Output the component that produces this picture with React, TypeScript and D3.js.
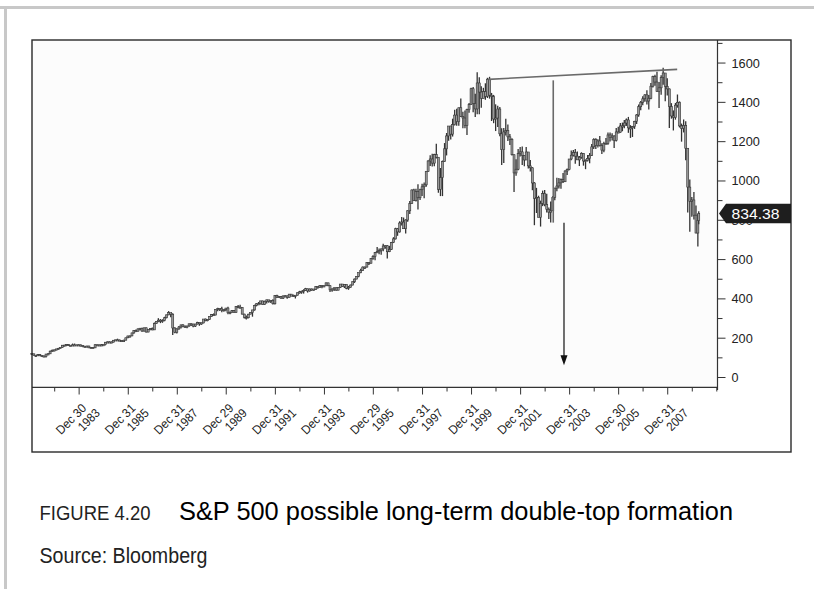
import React from "react";
import * as d3 from "d3";

// Monthly S&P 500 bars, Jan 1982 – Apr 2009
const START_YEAR = 1982;
const firstOpen = 122.6;
const closes = [
  120.4, 113.1, 112.0, 116.4, 111.9, 109.6, 107.1, 119.5, 120.4, 133.7, 138.5, 140.6,
  145.3, 148.1, 153.0, 164.4, 162.4, 168.1, 162.6, 164.4, 166.1, 163.6, 166.4, 164.9,
  163.4, 157.1, 159.2, 160.1, 150.6, 153.2, 150.7, 166.7, 166.1, 166.1, 163.6, 167.2,
  179.6, 181.2, 180.7, 179.8, 189.6, 191.9, 190.9, 188.6, 182.1, 189.8, 202.2, 211.3,
  211.8, 226.9, 238.9, 235.5, 247.4, 250.8, 236.1, 252.9, 231.3, 244.0, 249.2, 242.2,
  274.1, 284.2, 291.7, 288.4, 290.1, 304.0, 318.7, 329.8, 321.8, 251.8, 230.3, 247.1,
  257.1, 267.8, 258.9, 261.3, 262.2, 273.5, 272.0, 261.5, 271.9, 279.0, 273.7, 277.7,
  297.5, 288.9, 294.9, 309.6, 320.5, 318.0, 346.1, 351.5, 349.2, 340.4, 346.0, 353.4,
  329.1, 331.9, 339.9, 330.8, 361.2, 358.0, 356.2, 322.6, 306.1, 304.0, 322.2, 330.2,
  343.9, 367.1, 375.2, 375.3, 389.8, 371.2, 387.8, 395.4, 387.9, 392.5, 375.2, 417.1,
  408.8, 412.7, 403.7, 415.0, 415.4, 408.1, 424.2, 414.0, 417.8, 418.7, 431.4, 435.7,
  438.8, 443.4, 451.7, 440.2, 450.2, 450.5, 448.1, 463.6, 458.9, 467.8, 461.8, 466.5,
  481.6, 467.1, 445.8, 450.9, 456.5, 444.3, 458.3, 475.5, 462.7, 472.4, 453.7, 459.3,
  470.4, 487.4, 500.7, 514.7, 533.4, 544.8, 562.1, 561.9, 584.4, 581.5, 605.4, 615.9,
  636.0, 640.4, 645.5, 654.2, 669.1, 670.6, 640.0, 652.0, 687.3, 705.3, 757.0, 740.7,
  786.2, 790.8, 757.1, 801.3, 848.3, 885.1, 954.3, 899.5, 947.3, 914.6, 955.4, 970.4,
  980.3, 1049.3, 1101.8, 1111.8, 1090.8, 1133.8, 1120.7, 957.3, 1017.0, 1098.7, 1163.6, 1229.2,
  1279.6, 1238.3, 1286.4, 1335.2, 1301.8, 1372.7, 1328.7, 1320.4, 1282.7, 1362.9, 1388.9, 1469.3,
  1394.5, 1366.4, 1498.6, 1452.4, 1420.6, 1454.6, 1430.8, 1517.7, 1436.5, 1429.4, 1315.2, 1320.3,
  1366.0, 1239.9, 1160.3, 1249.5, 1255.8, 1224.4, 1211.2, 1133.6, 1040.9, 1059.8, 1139.5, 1148.1,
  1130.2, 1106.7, 1147.4, 1076.9, 1067.1, 989.8, 911.6, 916.1, 815.3, 885.8, 936.3, 879.8,
  855.7, 841.2, 848.2, 916.9, 963.6, 974.5, 990.3, 1008.0, 996.0, 1050.7, 1058.2, 1111.9,
  1131.1, 1144.9, 1126.2, 1107.3, 1120.7, 1140.8, 1101.7, 1104.2, 1114.6, 1130.2, 1173.8, 1211.9,
  1181.3, 1203.6, 1180.6, 1156.9, 1191.5, 1191.3, 1234.2, 1220.3, 1228.8, 1207.0, 1249.5, 1248.3,
  1280.1, 1280.7, 1294.9, 1310.6, 1270.1, 1270.2, 1276.7, 1303.8, 1335.9, 1377.9, 1400.6, 1418.3,
  1438.2, 1406.8, 1420.9, 1482.4, 1530.6, 1503.4, 1455.3, 1474.0, 1526.8, 1549.4, 1481.1, 1468.4,
  1378.6, 1330.6, 1322.7, 1385.6, 1400.4, 1280.0, 1267.4, 1282.8, 1166.4, 968.8, 896.2, 903.3,
  825.9, 735.1, 797.9, 834.38,
];
const highs = [
  122.6, 120.4, 113.8, 119.3, 119.5, 112.0, 112.0, 119.5, 124.9, 137.0, 143.0, 143.1,
  146.8, 150.9, 153.0, 165.0, 167.0, 170.1, 169.8, 165.0, 172.7, 172.7, 167.0, 169.0,
  169.5, 163.0, 160.9, 162.0, 161.0, 155.0, 154.1, 168.8, 168.4, 167.6, 170.4, 168.0,
  180.3, 183.9, 183.9, 183.6, 190.3, 192.0, 197.6, 193.2, 189.0, 191.5, 202.4, 212.0,
  213.1, 227.5, 240.0, 244.7, 249.2, 251.8, 253.0, 253.0, 254.0, 244.0, 250.0, 254.9,
  280.0, 285.5, 301.9, 297.3, 296.4, 309.0, 320.0, 337.9, 328.0, 327.0, 255.8, 251.0,
  262.5, 269.0, 271.0, 264.0, 263.0, 274.0, 276.0, 273.0, 273.0, 283.7, 280.0, 280.0,
  297.5, 300.0, 296.0, 310.5, 323.0, 326.0, 346.1, 355.0, 351.0, 360.4, 346.0, 353.4,
  360.6, 336.0, 344.0, 344.0, 362.0, 368.9, 369.8, 357.0, 325.0, 315.0, 324.0, 331.0,
  344.0, 370.5, 378.0, 384.0, 390.0, 391.0, 391.0, 396.0, 394.0, 393.0, 398.0, 418.0,
  421.0, 414.0, 415.0, 417.0, 420.0, 417.0, 425.0, 425.0, 422.0, 419.0, 432.0, 441.0,
  442.0, 449.0, 456.0, 452.0, 453.0, 453.0, 449.0, 464.0, 463.0, 470.0, 468.0, 470.0,
  482.9, 482.0, 469.0, 453.0, 458.0, 459.0, 459.0, 476.0, 474.0, 474.0, 473.0, 466.0,
  473.0, 488.0, 504.0, 515.0, 533.0, 553.0, 565.0, 565.0, 587.0, 587.0, 607.0, 622.0,
  638.0, 664.0, 656.0, 656.0, 680.0, 673.0, 673.0, 670.0, 690.0, 714.0, 762.0, 761.0,
  795.0, 817.0, 814.0, 805.0, 851.0, 898.0, 957.0, 961.0, 960.0, 983.0, 960.0, 986.0,
  992.0, 1050.0, 1105.0, 1131.0, 1138.0, 1139.0, 1190.0, 1121.0, 1066.0, 1104.0, 1193.0, 1244.0,
  1280.0, 1281.0, 1317.0, 1362.0, 1368.0, 1373.0, 1420.0, 1352.0, 1358.0, 1367.0, 1397.0, 1474.0,
  1478.0, 1444.0, 1553.0, 1528.0, 1482.0, 1474.0, 1497.0, 1525.0, 1530.0, 1448.0, 1438.0, 1390.0,
  1383.0, 1377.0, 1268.0, 1269.0, 1316.0, 1287.0, 1239.0, 1218.0, 1135.0, 1110.0, 1163.0, 1173.0,
  1176.0, 1131.0, 1173.0, 1147.0, 1107.0, 1070.0, 994.0, 965.0, 925.0, 900.0, 951.0, 954.0,
  935.0, 865.0, 895.0, 924.0, 965.0, 1016.0, 1015.0, 1012.0, 1040.0, 1054.0, 1063.0, 1112.0,
  1155.0, 1158.0, 1163.0, 1150.0, 1127.0, 1146.0, 1141.0, 1110.0, 1132.0, 1142.0, 1188.0, 1217.0,
  1217.0, 1212.0, 1229.0, 1192.0, 1200.0, 1219.0, 1246.0, 1246.0, 1243.0, 1233.0, 1270.0, 1276.0,
  1295.0, 1297.0, 1310.0, 1318.0, 1326.0, 1284.0, 1280.0, 1306.0, 1340.0, 1389.0, 1407.0, 1431.0,
  1441.0, 1461.0, 1438.0, 1499.0, 1535.0, 1541.0, 1556.0, 1503.0, 1538.0, 1576.0, 1545.0, 1523.0,
  1471.0, 1396.0, 1359.0, 1397.0, 1440.0, 1405.0, 1292.0, 1313.0, 1304.0, 1167.0, 1007.0, 919.0,
  943.9, 875.0, 832.0, 845.6,
];
const lows = [
  114.2, 112.1, 104.4, 111.9, 110.0, 107.0, 106.2, 102.2, 117.0, 119.0, 131.0, 133.0,
  138.3, 141.7, 148.0, 151.9, 160.0, 159.1, 160.1, 158.6, 162.0, 161.0, 161.0, 161.2,
  162.4, 154.3, 152.3, 155.3, 150.3, 149.0, 147.3, 150.2, 162.0, 162.4, 162.9, 161.7,
  163.4, 177.4, 176.5, 177.2, 178.4, 186.0, 188.8, 184.9, 180.0, 180.0, 189.0, 200.0,
  203.5, 209.6, 222.9, 232.9, 233.8, 239.6, 233.0, 234.0, 228.7, 229.9, 240.0, 241.0,
  242.2, 273.0, 281.5, 276.6, 278.2, 286.0, 301.0, 317.0, 307.0, 216.5, 225.0, 223.9,
  242.6, 249.3, 256.0, 253.0, 250.8, 258.0, 262.5, 256.0, 256.9, 270.0, 263.0, 268.0,
  275.3, 286.0, 286.0, 293.0, 308.0, 314.0, 316.0, 337.0, 339.0, 332.0, 334.0, 337.0,
  322.0, 322.0, 331.0, 329.0, 330.0, 352.0, 355.0, 320.0, 300.0, 294.5, 301.0, 322.0,
  309.4, 340.0, 362.0, 370.0, 371.0, 370.0, 369.0, 376.0, 380.0, 379.0, 372.0, 371.0,
  405.0, 405.0, 401.0, 400.0, 410.0, 401.0, 407.0, 413.0, 410.0, 402.0, 417.0, 427.0,
  426.0, 427.0, 441.0, 432.0, 437.0, 441.0, 441.0, 446.0, 452.0, 457.0, 454.0, 461.0,
  465.0, 464.0, 435.0, 435.9, 440.0, 442.0, 444.0, 455.0, 461.0, 455.0, 449.0, 446.0,
  457.0, 469.0, 481.0, 500.0, 510.0, 531.0, 543.0, 552.0, 560.0, 572.0, 580.0, 599.0,
  597.0, 633.0, 627.0, 625.0, 643.0, 655.0, 605.0, 638.0, 649.0, 684.0, 702.0, 721.0,
  737.0, 773.0, 757.0, 733.0, 793.0, 832.0, 884.0, 899.0, 895.0, 855.0, 903.0, 924.0,
  912.0, 970.0, 1047.0, 1076.0, 1074.0, 1075.0, 1114.0, 940.0, 923.0, 923.0, 1097.0, 1130.0,
  1205.0, 1211.0, 1226.0, 1282.0, 1281.0, 1281.0, 1325.0, 1268.0, 1268.0, 1234.0, 1347.0, 1387.0,
  1350.0, 1326.0, 1339.0, 1339.0, 1373.0, 1420.0, 1413.0, 1422.0, 1419.0, 1305.0, 1294.0, 1254.0,
  1274.0, 1228.0, 1081.0, 1091.0, 1232.0, 1203.0, 1183.0, 1130.0, 944.0, 1026.0, 1054.0, 1124.0,
  1081.0, 1075.0, 1107.0, 1063.0, 1048.0, 953.0, 775.0, 837.0, 815.0, 768.0, 872.0, 872.0,
  840.0, 806.0, 789.0, 847.0, 902.0, 948.0, 962.0, 960.0, 990.0, 996.0, 1031.0, 1055.0,
  1106.0, 1124.0, 1088.0, 1107.0, 1076.0, 1113.0, 1078.0, 1060.0, 1099.0, 1090.0, 1127.0, 1163.0,
  1163.0, 1170.0, 1176.0, 1137.0, 1146.0, 1188.0, 1184.0, 1201.0, 1206.0, 1168.0, 1201.0, 1245.0,
  1245.0, 1253.0, 1268.0, 1280.0, 1245.0, 1219.0, 1224.0, 1265.0, 1290.0, 1327.0, 1360.0, 1385.0,
  1403.0, 1389.0, 1364.0, 1416.0, 1476.0, 1484.0, 1454.0, 1371.0, 1439.0, 1490.0, 1406.0, 1435.0,
  1270.0, 1317.0, 1257.0, 1312.0, 1373.0, 1272.0, 1200.0, 1247.0, 1106.0, 840.0, 741.0, 818.0,
  804.3, 734.5, 666.8, 779.8,
];

const lastPrice = "834.38";
const lastValue = 834.38;

const yTickValues = d3.range(0, 1701, 100);
const yLabelValues = [0, 200, 400, 600, 800, 1000, 1200, 1400, 1600];

const xTickDates = [
  [1982, 11, 31], [1983, 11, 30], [1984, 11, 31], [1985, 11, 31], [1986, 11, 31],
  [1987, 11, 31], [1988, 11, 30], [1989, 11, 29], [1990, 11, 31], [1991, 11, 31],
  [1992, 11, 31], [1993, 11, 31], [1994, 11, 30], [1995, 11, 29], [1996, 11, 31],
  [1997, 11, 31], [1998, 11, 31], [1999, 11, 31], [2000, 11, 29], [2001, 11, 31],
  [2002, 11, 31], [2003, 11, 31], [2004, 11, 31], [2005, 11, 30], [2006, 11, 29],
  [2007, 11, 31], [2008, 11, 31], [2009, 11, 31],
];
const xLabelDays = ["Dec 30", "Dec 31", "Dec 31", "Dec 29", "Dec 31", "Dec 31", "Dec 29",
  "Dec 31", "Dec 31", "Dec 31", "Dec 31", "Dec 30", "Dec 31"];
const xLabelYears = ["1983", "1985", "1987", "1989", "1991", "1993", "1995", "1997",
  "1999", "2001", "2003", "2005", "2007"];

// annotations: double-top line, measured-move line, target arrow
const topLineDates = [[2000, 8, 5], [2008, 4, 20]];
const topLineValues = [1517, 1568];
const moveLineDate = [2003, 4, 1];
const moveLineValues = [1512, 788];
const arrowDate = [2003, 9, 8];
const arrowValues = [787, 62];

const FONT = "'Liberation Sans', Arial, Helvetica, sans-serif";

export default function App() {
  const x = d3.scaleTime()
    .domain([new Date(1982, 0, 27), new Date(2010, 0, 3)])
    .range([32, 717]);
  const y = d3.scaleLinear().domain([0, 1700]).range([377.5, 43.4]);

  const bars = closes.map((c, i) => {
    const d = i === closes.length - 1 ? new Date(START_YEAR, i, 6) : new Date(START_YEAR, i, 24);
    const o = i === 0 ? firstOpen : closes[i - 1];
    return { cx: x(d), o, c, h: highs[i], l: lows[i] };
  });

  const toDate = (a: number[]) => new Date(a[0], a[1], a[2]);
  const ly = y(lastValue);

  return (
    <div style={{ position: "absolute", left: 0, top: 0 }}>
      <svg width={814} height={589} style={{ display: "block", background: "#fff" }}>
        {/* page frame */}
        <rect x={0} y={6} width={814} height={3} fill="#c8c8c8" />
        <rect x={4} y={6} width={3} height={583} fill="#c8c8c8" />

        {/* plot background */}
        <rect x={32} y={40} width={685} height={347} fill="#fcfcfc" />

        {/* bars */}
        <g>
          {bars.map((b, i) => (
            <g key={i}>
              <line x1={b.cx} x2={b.cx} y1={y(b.l)} y2={y(b.h)} stroke="#333" strokeWidth={1.3} />
              <rect x={b.cx - 1} width={2}
                y={Math.min(y(b.o), y(b.c))}
                height={Math.max(1.2, Math.abs(y(b.o) - y(b.c)))}
                fill="#999" stroke="#333" strokeWidth={0.6} />
            </g>
          ))}
        </g>

        {/* annotations */}
        <line x1={x(toDate(topLineDates[0]))} y1={y(topLineValues[0])}
          x2={x(toDate(topLineDates[1]))} y2={y(topLineValues[1])}
          stroke="#6a6a6a" strokeWidth={1.6} />
        <line x1={x(toDate(moveLineDate))} x2={x(toDate(moveLineDate))}
          y1={y(moveLineValues[0])} y2={y(moveLineValues[1])}
          stroke="#6a6a6a" strokeWidth={1.6} />
        <line x1={x(toDate(arrowDate))} x2={x(toDate(arrowDate))}
          y1={y(arrowValues[0])} y2={y(arrowValues[1]) - 9}
          stroke="#111" strokeWidth={1.2} />
        <path d={`M${x(toDate(arrowDate)) - 3.5},${y(arrowValues[1]) - 10} L${x(toDate(arrowDate)) + 3.5},${y(arrowValues[1]) - 10} L${x(toDate(arrowDate))},${y(arrowValues[1])} Z`}
          fill="#111" />

        {/* plot border and outer box */}
        <line x1={32} x2={717.5} y1={387.3} y2={387.3} stroke="#333" strokeWidth={1.2} />
        <line x1={717.5} x2={717.5} y1={40} y2={390} stroke="#333" strokeWidth={1.2} />
        <rect x={32} y={40} width={759} height={412} fill="none" stroke="#2a2a2a" strokeWidth={1.4} />

        {/* right axis */}
        {yTickValues.map((v) => (
          <line key={v} x1={718} x2={v % 200 === 0 ? 725.5 : 722.5} y1={y(v)} y2={y(v)}
            stroke="#333" strokeWidth={1} />
        ))}
        {yLabelValues.map((v) => (
          <text key={v} x={731.5} y={y(v) + 4.5} fontFamily={FONT} fontSize={12.5} fill="#222"
            textLength={v >= 1000 ? 28.3 : v > 0 ? 21.2 : 7} lengthAdjust="spacingAndGlyphs">
            {v}
          </text>
        ))}

        {/* last price marker */}
        <path d={`M719,${ly} L726,${ly - 9.7} L791,${ly - 9.7} L791,${ly + 9.7} L726,${ly + 9.7} Z`} fill="#1e1e1e" />
        <text x={731.5} y={ly + 5} fontFamily={FONT} fontSize={15} fill="#fff"
          textLength={48} lengthAdjust="spacingAndGlyphs">{lastPrice}</text>

        {/* x axis ticks */}
        {xTickDates.map((a, i) => {
          const major = a[0] % 2 === 1 && a[0] < 2009;
          const tx = x(toDate(a));
          return (
            <line key={i} x1={tx} x2={tx} y1={387.5} y2={major ? 394.5 : 391.5} stroke="#333" strokeWidth={1} />
          );
        })}
        {xTickDates.filter((a) => a[0] % 2 === 1 && a[0] < 2009).map((a, i) => {
          const tx = x(toDate(a));
          return (
            <g key={i} transform={`translate(${tx + 8},${409}) rotate(-45)`}
              fontFamily={FONT} fontSize={12.5} fill="#222">
              <text x={0} y={0} textAnchor="end" textLength={37} lengthAdjust="spacingAndGlyphs">{xLabelDays[i]}</text>
              <text x={6} y={13} textAnchor="end" textLength={25} lengthAdjust="spacingAndGlyphs">{xLabelYears[i]}</text>
            </g>
          );
        })}

        {/* caption */}
        <text x={39.5} y={520} fontFamily={FONT} fontSize={20.5} fill="#222" textLength={111} lengthAdjust="spacingAndGlyphs">FIGURE 4.20</text>
        <text x={179} y={520} fontFamily={FONT} fontSize={25.5} fill="#000" textLength={554} lengthAdjust="spacingAndGlyphs">S&amp;P 500 possible long-term double-top formation</text>
        <text x={39.5} y={563.3} fontFamily={FONT} fontSize={22} fill="#222" textLength={168} lengthAdjust="spacingAndGlyphs">Source: Bloomberg</text>
      </svg>
    </div>
  );
}
